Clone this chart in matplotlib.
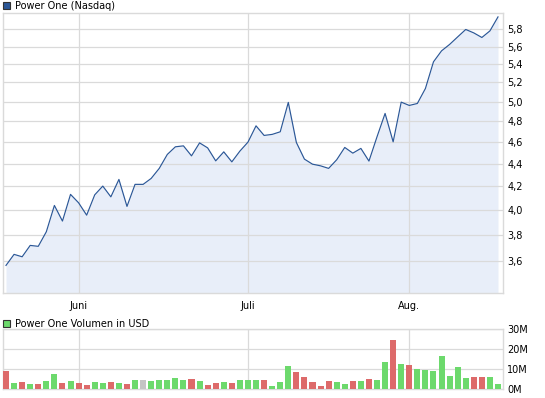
import matplotlib
matplotlib.use("Agg")
import matplotlib.pyplot as plt
from matplotlib.patches import Rectangle
from matplotlib.ticker import FixedLocator, NullLocator

W, H = 545, 398  # output size in px (dpi 100)

# ─── data ──────────────────────────────────────────────────────────────────────
price = [3.568, 3.650, 3.632, 3.718, 3.711, 3.824, 4.037, 3.909, 4.130, 4.059,
         3.957, 4.126, 4.201, 4.109, 4.259, 4.029, 4.216, 4.216, 4.268, 4.357,
         4.484, 4.555, 4.564, 4.471, 4.592, 4.545, 4.425, 4.508, 4.416, 4.515,
         4.599, 4.756, 4.663, 4.673, 4.698, 4.991, 4.596, 4.441, 4.395, 4.380,
         4.357, 4.435, 4.549, 4.496, 4.540, 4.423, 4.650, 4.879, 4.602, 4.994,
         4.960, 4.980, 5.136, 5.426, 5.550, 5.624, 5.712, 5.800, 5.759, 5.705,
         5.783, 5.952]
prev_close = 3.60  # close before first day, only for the first bar's colour

volume_m = [9.3, 3.3, 3.8, 2.8, 2.8, 4.3, 7.8, 3.3, 4.3, 3.3,
            2.3, 3.8, 3.3, 3.8, 3.3, 2.8, 4.8, 4.8, 4.3, 4.8,
            4.8, 5.8, 4.8, 5.3, 4.3, 2.3, 3.3, 3.8, 3.3, 4.8,
            4.8, 4.8, 4.8, 1.8, 3.8, 11.7, 8.7, 6.2, 3.7, 1.7,
            4.2, 3.7, 2.7, 4.2, 4.2, 5.2, 4.7, 13.7, 24.7, 12.7,
            12.2, 10.2, 9.7, 9.2, 16.7, 6.7, 11.2, 5.7, 6.2, 6.2,
            6.2, 2.7]

month_labels = ["Juni", "Juli", "Aug."]
month_start_idx = [9, 30, 50]
price_ticks = [3.6, 3.8, 4.0, 4.2, 4.4, 4.6, 4.8, 5.0, 5.2, 5.4, 5.6, 5.8]
volume_ticks = [0, 10, 20, 30]

# ─── style ─────────────────────────────────────────────────────────────────────
LINE = "#2b5797"
FILL = "#e8eef9"
GRID = "#dadada"
UP, DOWN, FLAT = "#6cd96c", "#dd6a6a", "#c4c4c4"
FONT = 7

plt.rcParams["font.family"] = "DejaVu Sans"


def px_rect(left, top, right, bottom):
    return [left / W, 1 - bottom / H, (right - left) / W, (bottom - top) / H]


def style_axes(ax):
    for s in ax.spines.values():
        s.set_color(GRID)
        s.set_linewidth(1.0)
    ax.grid(True, color=GRID, linewidth=0.9)
    ax.set_axisbelow(False)
    ax.yaxis.tick_right()
    ax.tick_params(length=0, labelsize=FONT, pad=3)
    ax.set_xlim(-0.372, 61.62)
    ax.set_xticks(month_start_idx)


x = list(range(len(price)))

fig = plt.figure(figsize=(W / 100, H / 100), dpi=100)

# price panel
ax = fig.add_axes(px_rect(3, 13, 503, 292.7))
style_axes(ax)
ax.set_yscale("log")
ax.set_ylim(3.373, 6.0)
ax.fill_between(x, price, 3.0, color=FILL, linewidth=0, zorder=1)
ax.plot(x, price, color=LINE, linewidth=0.85, zorder=3)
ax.yaxis.set_major_locator(FixedLocator(price_ticks))
ax.yaxis.set_minor_locator(NullLocator())
ax.set_yticklabels([f"{t:.1f}".replace(".", ",") for t in price_ticks])
ax.set_xticklabels(month_labels)
ax.tick_params(axis="x", pad=6)

# volume panel
vax = fig.add_axes(px_rect(3, 329.3, 503, 389.3))
style_axes(vax)
closes = [prev_close] + price
colors = [UP if c > p else DOWN if c < p else FLAT for p, c in zip(closes[:-1], closes[1:])]
vax.bar(x, volume_m, width=0.75, color=colors, linewidth=0, zorder=3)
vax.set_ylim(0, 30)
vax.set_yticks(volume_ticks)
vax.set_yticklabels([f"{v}M" for v in volume_ticks])
vax.set_xticklabels([])

# legends
for top, face, label in [(2, LINE, "Power One (Nasdaq)"),
                         (320, UP, "Power One Volumen in USD")]:
    fig.add_artist(Rectangle((3 / W, 1 - (top + 7) / H), 7 / W, 7 / H,
                             transform=fig.transFigure, facecolor=face,
                             edgecolor="#333333", linewidth=0.8))
    fig.text(15 / W, 1 - (top + 3.8) / H, label, fontsize=FONT, va="center", ha="left")

fig.savefig("out.png", dpi=100)
